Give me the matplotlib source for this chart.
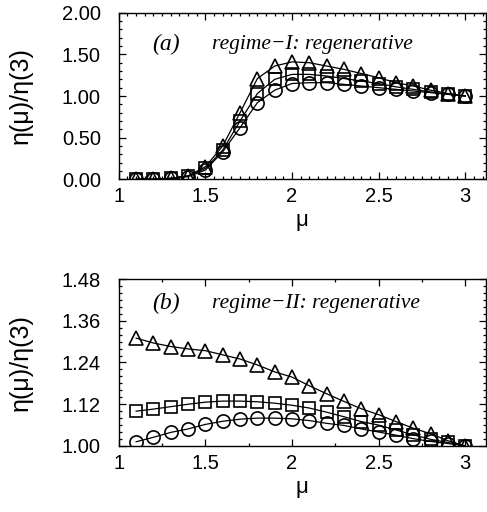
import matplotlib
matplotlib.use("Agg")
import matplotlib.pyplot as plt
from matplotlib.ticker import MultipleLocator, FormatStrFormatter

mu = [1.1, 1.2, 1.3, 1.4, 1.5, 1.6, 1.7, 1.8, 1.9, 2.0,
      2.1, 2.2, 2.3, 2.4, 2.5, 2.6, 2.7, 2.8, 2.9, 3.0]

# panel (a): regime-I
a_tri = [0.00, 0.00, 0.01, 0.04, 0.15, 0.40, 0.80, 1.21, 1.36, 1.41,
         1.40, 1.36, 1.32, 1.27, 1.22, 1.16, 1.12, 1.07, 1.03, 1.00]
a_sq = [0.00, 0.00, 0.01, 0.04, 0.13, 0.35, 0.70, 1.03, 1.20, 1.26,
        1.26, 1.24, 1.21, 1.18, 1.15, 1.11, 1.08, 1.05, 1.02, 1.00]
a_circ = [0.00, 0.00, 0.01, 0.03, 0.11, 0.33, 0.62, 0.92, 1.07, 1.15,
          1.16, 1.16, 1.14, 1.12, 1.10, 1.08, 1.06, 1.04, 1.02, 1.00]

# panel (b): regime-II
b_tri = [1.310, 1.296, 1.286, 1.279, 1.274, 1.262, 1.250, 1.233, 1.213, 1.198,
         1.173, 1.150, 1.128, 1.107, 1.090, 1.070, 1.051, 1.035, 1.015, 1.000]
b_sq = [1.100, 1.106, 1.113, 1.120, 1.126, 1.129, 1.129, 1.127, 1.123, 1.117,
        1.109, 1.097, 1.084, 1.070, 1.060, 1.046, 1.032, 1.019, 1.010, 1.000]
b_circ = [1.012, 1.025, 1.039, 1.049, 1.062, 1.071, 1.077, 1.080, 1.080, 1.078,
          1.073, 1.065, 1.059, 1.049, 1.040, 1.031, 1.021, 1.013, 1.007, 1.000]

a_yticks = [0.0, 0.5, 1.0, 1.5, 2.0]
b_yticks = [1.00, 1.12, 1.24, 1.36, 1.48]
xticks = [1, 1.5, 2, 2.5, 3]

plt.rcParams['font.family'] = ['Liberation Sans', 'DejaVu Sans']

fig = plt.figure(figsize=(4.87, 5.12), dpi=100)
ax1 = fig.add_axes([0.244, 0.650, 0.754, 0.325])
ax2 = fig.add_axes([0.244, 0.129, 0.754, 0.326])

mk = dict(color='black', lw=0.9, markerfacecolor='none', markeredgecolor='black',
          markeredgewidth=1.2, markersize=9.5)

for ax, tri, sq, circ in [(ax1, a_tri, a_sq, a_circ), (ax2, b_tri, b_sq, b_circ)]:
    ax.plot(mu, circ, marker='o', **mk)
    ax.plot(mu, sq, marker='s', **{**mk, 'markersize': 8})
    ax.plot(mu, tri, marker='^', **{**mk, 'markersize': 10.5})
    ax.set_xlim(1, 3.12)
    ax.set_xticks(xticks)
    ax.set_xticklabels(['1', '1.5', '2', '2.5', '3'])
    ax.tick_params(which='both', direction='in', top=True, right=True,
                   labelsize=14.5, width=0.9)
    ax.tick_params(axis='y', which='major', pad=13)
    ax.tick_params(axis='x', which='major', pad=5.5)
    ax.tick_params(which='major', length=5)
    ax.tick_params(which='minor', length=2.5)
    ax.set_xlabel('μ', fontsize=16, labelpad=3)
    ax.set_ylabel('η(μ)/η(3)', fontsize=18)
    ax.yaxis.set_label_coords(-0.235, 0.5)
    for s in ax.spines.values():
        s.set_linewidth(1.0)

ax1.set_ylim(0, 2)
ax1.set_yticks(a_yticks)
ax1.yaxis.set_major_formatter(FormatStrFormatter('%.2f'))
ax1.yaxis.set_minor_locator(MultipleLocator(0.1))
ax1.xaxis.set_minor_locator(MultipleLocator(0.05))

ax2.set_ylim(1.0, 1.48)
ax2.set_yticks(b_yticks)
ax2.yaxis.set_major_formatter(FormatStrFormatter('%.2f'))
ax2.yaxis.set_minor_locator(MultipleLocator(0.02))
ax2.xaxis.set_minor_locator(MultipleLocator(0.25))

tfont = dict(family=['Liberation Serif', 'DejaVu Serif'], style='italic')
ax1.text(0.09, 0.81, '(a)', transform=ax1.transAxes, va='center', ha='left',
         fontsize=17, **tfont)
ax1.text(0.255, 0.81, 'regime−I: regenerative', transform=ax1.transAxes,
         va='center', ha='left', fontsize=15.5, **tfont)
ax2.text(0.09, 0.855, '(b)', transform=ax2.transAxes, va='center', ha='left',
         fontsize=17, **tfont)
ax2.text(0.255, 0.855, 'regime−II: regenerative', transform=ax2.transAxes,
         va='center', ha='left', fontsize=15.5, **tfont)

fig.savefig('out.png', dpi=100)
